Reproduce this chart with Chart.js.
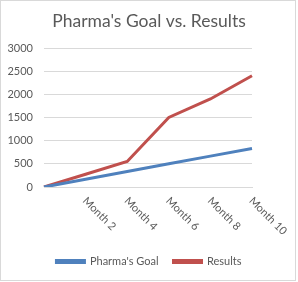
<!DOCTYPE html>
<html>
<head>
<meta charset="utf-8">
<script src="https://cdn.jsdelivr.net/npm/chart.js@4/dist/chart.umd.min.js"></script>
<style>
html,body{margin:0;padding:0;background:#fff;}
#wrap{width:298px;height:282px;position:relative;}
</style>
</head>
<body>
<div id="wrap"><canvas id="c" width="298" height="282"></canvas></div>
<script>
const categories = ["", "Month 2", "Month 4", "Month 6", "Month 8", "Month 10"];
const goalValues = [0, 166, 333, 500, 666, 833];
const resultValues = [0, 275, 550, 1500, 1900, 2400];
const yTicks = [0, 500, 1000, 1500, 2000, 2500, 3000];
const titleText = "Pharma's Goal vs. Results";
const seriesNames = ["Pharma's Goal", "Results"];

const FONT = "Lato, 'Open Sans', sans-serif";
const GREY = "#595959";

const borderPlugin = {
  id: 'border',
  beforeDraw(chart) {
    const ctx = chart.ctx;
    ctx.save();
    ctx.fillStyle = '#fff';
    ctx.fillRect(0, 0, chart.width, chart.height);
    ctx.strokeStyle = '#d9d9d9';
    ctx.lineWidth = 1;
    ctx.strokeRect(0.5, 0.5, 295, 280);
    ctx.restore();
  }
};

const xLabelPlugin = {
  id: 'xLabels',
  afterDraw(chart) {
    const ctx = chart.ctx;
    const xs = chart.scales.x;
    ctx.save();
    ctx.font = "11px " + FONT;
    ctx.fillStyle = GREY;
    ctx.textAlign = 'left';
    ctx.textBaseline = 'middle';
    categories.forEach((lab, i) => {
      if (!lab) return;
      const px = xs.getPixelForValue(i);
      ctx.save();
      ctx.translate(px - 1, xs.top + 12);
      ctx.rotate(Math.PI / 4);
      ctx.fillText(lab, 0, 0);
      ctx.restore();
    });
    ctx.restore();
  }
};

new Chart(document.getElementById('c'), {
  type: 'line',
  data: {
    labels: categories,
    datasets: [
      { label: seriesNames[0], data: goalValues, borderColor: '#4F81BD', backgroundColor: '#4F81BD', borderWidth: 3, pointRadius: 0, tension: 0 },
      { label: seriesNames[1], data: resultValues, borderColor: '#C0504D', backgroundColor: '#C0504D', borderWidth: 3, pointRadius: 0, tension: 0 }
    ]
  },
  options: {
    responsive: false,
    animation: false,
    layout: { padding: { left: 0, right: 0, top: 0, bottom: 5 } },
    plugins: {
      title: {
        display: true, text: titleText, color: GREY,
        font: { family: FONT, size: 17.5, weight: 'normal' },
        padding: { top: 11, bottom: 16 }
      },
      legend: {
        position: 'bottom',
        labels: {
          color: GREY, font: { family: FONT, size: 11 },
          boxWidth: 28, boxHeight: 2, padding: 15
        }
      },
      tooltip: { enabled: false }
    },
    scales: {
      x: {
        offset: false,
        grid: { display: false, drawTicks: false },
        border: { display: true, color: '#d9d9d9' },
        ticks: { display: false },
        afterFit(s) { s.height = 54; }
      },
      y: {
        min: 0, max: 3000,
        afterBuildTicks(s) { s.ticks = yTicks.map(v => ({ value: v })); },
        grid: { color: '#d9d9d9', drawTicks: false },
        border: { display: false },
        ticks: { color: GREY, font: { family: FONT, size: 11 }, padding: 11, callback: v => String(v) },
        afterFit(s) { s.width = 44; }
      },
      yRight: {
        position: 'right',
        min: 0, max: 3000,
        grid: { display: false, drawTicks: false },
        border: { display: false },
        ticks: { display: false },
        afterFit(s) { s.width = 46; }
      }
    }
  },
  plugins: [borderPlugin, xLabelPlugin]
});
</script>
</body>
</html>
